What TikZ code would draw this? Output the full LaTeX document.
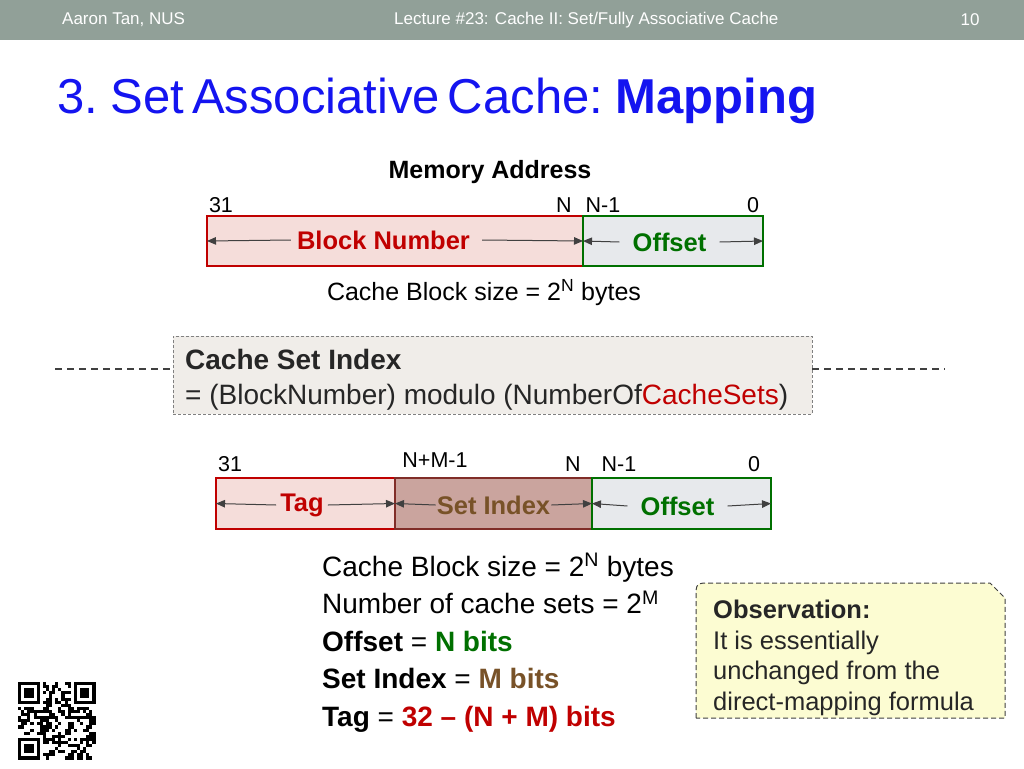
\documentclass[tikz,border=0pt]{standalone}
\usepackage{fontspec}
\setmainfont{Liberation Sans}
\usetikzlibrary{arrows.meta}
\definecolor{hdr}{RGB}{145,160,152}
\definecolor{ttl}{RGB}{20,20,240}
\definecolor{dred}{RGB}{192,0,0}
\definecolor{dgreen}{RGB}{0,112,0}
\definecolor{brn}{RGB}{120,82,40}
\definecolor{pinkf}{RGB}{245,221,218}
\definecolor{grayf}{RGB}{231,233,236}
\definecolor{sif}{RGB}{202,164,158}
\definecolor{sib}{RGB}{128,45,40}
\definecolor{formf}{RGB}{240,237,233}
\definecolor{obsf}{RGB}{252,252,210}
\definecolor{arr}{RGB}{64,64,64}
\newcommand{\fs}[1]{\fontsize{#1}{#1}\selectfont}
\tikzset{
  hdrtxt/.style={text=white, font=\fs{17}, inner sep=0},
  fieldbox/.style={draw, line width=1.4pt, inner sep=0, minimum height=50},
  fld/.style={font=\fs{25.5}\bfseries, inner ysep=0},
  bitlbl/.style={font=\fs{21.5}, inner sep=0},
  dimarr/.style={draw=arr, line width=1pt, -{Triangle[length=9pt,width=7.5pt]}},
  body/.style={font=\fs{28}, anchor=base west, inner sep=0},
  dashline/.style={draw=arr, line width=1.1pt, dash pattern=on 7pt off 5pt},
}
\begin{document}
\begin{tikzpicture}[x=1pt,y=-1pt]
\useasboundingbox (0,0) rectangle (1024,768);
\fill[white] (0,0) rectangle (1024,768);
% header
\fill[hdr] (0,0) rectangle (1024,40);
\node[hdrtxt, anchor=west] (h1) at (62,20) {Aaron Tan, NUS};
\node[hdrtxt, anchor=west] (h2) at (394,20) {Lecture \#23: Cache II: Set/Fully Associative Cache};
\node[hdrtxt] (h3) at (970,20) {10};
% title
\node[anchor=base west, inner sep=0, text=ttl, font=\fs{49}] (title) at (57,113)
  {\spaceskip=8pt plus 0pt minus 0pt 3. Set Associative Cache: \textbf{Mapping}};
% memory address
\node[font=\fs{25}\bfseries, inner sep=0] (ma) at (490,172) {Memory Address};
\node[bitlbl] (a31) at (221,205) {31};
\node[bitlbl] (aN) at (564,205) {N};
\node[bitlbl] (aN1) at (603,205) {N-1};
\node[bitlbl] (a0) at (753,205) {0};
\node[fieldbox, draw=dred, fill=pinkf, minimum width=376] (bn) at (395,241) {};
\node[fieldbox, draw=dgreen, fill=grayf, minimum width=180] (off1) at (673,241) {};
\node[fld, text=dred, inner xsep=5] (bnt) at (383.5,240) {Block Number};
\node[fld, text=dgreen, inner xsep=13] (of1t) at (669.5,242) {Offset};
\draw[dimarr] ([xshift=-1]bnt.west) -- ([xshift=0.7]bn.west);
\draw[dimarr] ([xshift=7]bnt.east) -- ([xshift=-0.7]bn.east);
\draw[dimarr] (of1t.west) -- ([xshift=0.7]off1.west);
\draw[dimarr] (of1t.east) -- ([xshift=-0.7]off1.east);
\node[font=\fs{25}, inner sep=0] (cbs1) at (484,293) {Cache Block size = 2\textsuperscript{N} bytes};
% formula box
\node[draw=gray, line width=0.9pt, dash pattern=on 3pt off 2pt, fill=formf, minimum width=639, minimum height=78, inner sep=0] (fbox) at (492.5,375) {};
\coordinate (dl) at (55,369);
\coordinate (dr) at (945,369);
\draw[dashline] (dl) -- (fbox.west |- dl);
\draw[dashline] (fbox.east |- dr) -- (dr);
\node[body, font=\fs{28}\bfseries, text=black!85] (f1) at (185,369) {Cache Set Index};
\node[body, text=black!85] (f2) at (185,404) {= (BlockNumber) modulo (NumberOf\textcolor{dred}{CacheSets})};
% second address
\node[bitlbl] (b31) at (230,464) {31};
\node[bitlbl] (bNM) at (435,460) {N+M-1};
\node[bitlbl] (bN) at (573,464) {N};
\node[bitlbl] (bN1) at (619,464) {N-1};
\node[bitlbl] (b0) at (754,464) {0};
\node[fieldbox, draw=dred, fill=pinkf, minimum width=179, minimum height=51] (tag) at (305.5,503.5) {};
\node[fieldbox, draw=sib, fill=sif, minimum width=197, minimum height=51] (si) at (493.5,503.5) {};
\node[fieldbox, draw=dgreen, fill=grayf, minimum width=179, minimum height=51] (off2) at (681.5,503.5) {};
\node[fld, text=dred, inner xsep=4] (tagt) at (302,505) {Tag};
\node[fld, text=brn, inner xsep=1] (sit) at (493.5,505) {Set Index};
\node[fld, text=dgreen, inner xsep=13] (of2t) at (677.5,506) {Offset};
\draw[dimarr] (tagt.west) -- ([xshift=0.7]tag.west);
\draw[dimarr] (tagt.east) -- ([xshift=-0.7]tag.east);
\draw[dimarr] (sit.west) -- ([xshift=0.7]si.west);
\draw[dimarr] (sit.east) -- ([xshift=-0.7]si.east);
\draw[dimarr] (of2t.west) -- ([xshift=0.7]off2.west);
\draw[dimarr] (of2t.east) -- ([xshift=-0.7]off2.east);
% body text
\node[body] (l1) at (322,576) {Cache Block size = 2\textsuperscript{N} bytes};
\node[body] (l2) at (322,613.5) {Number of cache sets = 2\textsuperscript{M}};
\node[body] (l3) at (322,651) {\textbf{Offset} = \textbf{\textcolor{dgreen}{N bits}}};
\node[body] (l4) at (322,688.5) {\textbf{Set Index} = \textbf{\textcolor{brn}{M bits}}};
\node[body] (l5) at (322,726) {\textbf{Tag} = \textbf{\textcolor{dred}{32 -- (N + M) bits}}};
% observation
\draw[draw=arr, line width=1pt, dash pattern=on 5pt off 3pt, fill=obsf]
  (696,718) -- (696,598) .. controls (696,583) .. (711,583) -- (990,583) -- (1005,598) -- (1005,718) -- cycle;
\node[anchor=north west, align=left, inner sep=0, font=\fs{25.5}, text=black!85] (obs) at (713,600)
  {\textbf{Observation:}\\[5pt]It is essentially\\[5pt]unchanged from the\\[5pt]direct-mapping formula};
% QR-like code
\pgfmathsetseed{17}
\foreach \i in {0,...,24}{
  \foreach \j in {0,...,24}{
    \pgfmathtruncatemacro\inf{((\i<8)&&(\j<8))||((\i>16)&&(\j<8))||((\i<8)&&(\j>16))}
    \pgfmathtruncatemacro\on{rnd>0.5}
    \ifnum\inf=0 \ifnum\on=1
      \fill (18+\i*3.1,682+\j*3.1) rectangle ++(3.1,3.1);
    \fi\fi
  }}
\foreach \ox/\oy in {0/0,18/0,0/18}{
  \fill (18+\ox*3.1,682+\oy*3.1) rectangle ++(21.7,21.7);
  \fill[white] (18+\ox*3.1+3.1,682+\oy*3.1+3.1) rectangle ++(15.5,15.5);
  \fill (18+\ox*3.1+6.2,682+\oy*3.1+6.2) rectangle ++(9.3,9.3);
}
\end{tikzpicture}
\end{document}
